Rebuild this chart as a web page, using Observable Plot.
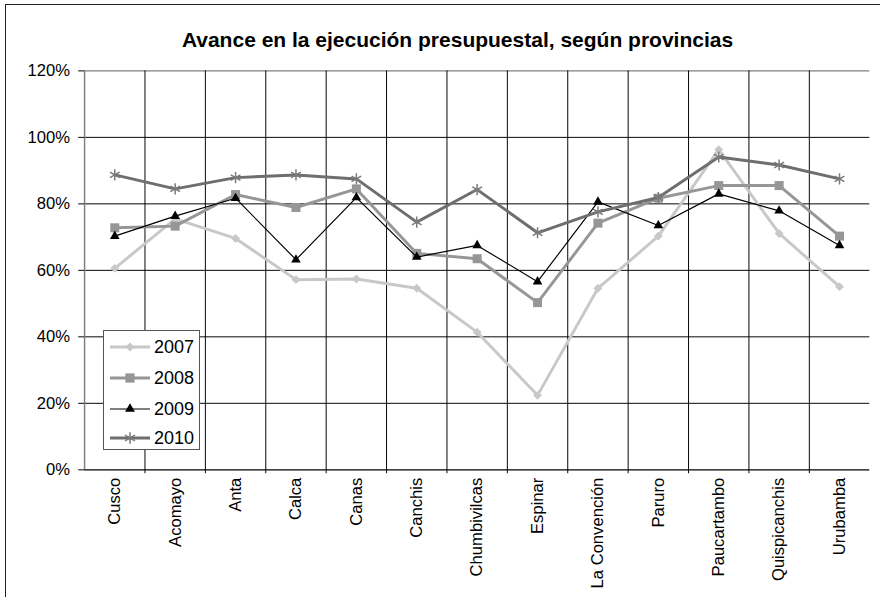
<!DOCTYPE html>
<html>
<head>
<meta charset="utf-8">
<script src="https://cdn.jsdelivr.net/npm/d3@7"></script>
<script src="https://cdn.jsdelivr.net/npm/@observablehq/plot@0.6"></script>
<style>
  html, body { margin: 0; padding: 0; background: #fff; overflow: hidden; }
  body { font-family: "Liberation Sans", Arial, sans-serif; }
  #wrap { position: relative; width: 880px; height: 597px; overflow: hidden; background: #fff; }
  #frame { position: absolute; left: 5px; top: 4px; width: 2000px; height: 2000px; border: 1.5px solid #222; box-sizing: border-box; }
  #title { position: absolute; left: 0; top: 28px; width: 915px; text-align: center; font-weight: bold; font-size: 21px; line-height: 24px; color: #000; }
  #chart { position: absolute; left: 0; top: 0; }
  #legend { position: absolute; left: 103px; top: 330px; width: 97px; height: 120px; background: #fff; border: 1px solid #555; box-sizing: border-box; }
</style>
</head>
<body>
<div id="wrap">
  <div id="frame"></div>
  <div id="chart"></div>
  <div id="title">Avance en la ejecución presupuestal, según provincias</div>
  <div id="legend"></div>
</div>
<script>
// ---- data ----
const categories = ["Cusco", "Acomayo", "Anta", "Calca", "Canas", "Canchis", "Chumbivilcas", "Espinar", "La Convención", "Paruro", "Paucartambo", "Quispicanchis", "Urubamba"];
const years = ["2007", "2008", "2009", "2010"];
const v2007 = [60.6, 75.5, 69.6, 57.2, 57.4, 54.6, 41.4, 22.4, 54.6, 70.3, 96.3, 71.1, 55.1];
const v2008 = [72.8, 73.3, 82.8, 78.9, 84.5, 65.1, 63.5, 50.3, 74.2, 81.7, 85.5, 85.5, 70.3];
const v2009 = [70.3, 76.3, 81.7, 63.2, 81.9, 64.0, 67.5, 56.6, 80.6, 73.5, 83.0, 77.9, 67.5];
const v2010 = [88.7, 84.5, 87.9, 88.7, 87.5, 74.5, 84.3, 71.3, 77.6, 81.9, 94.1, 91.7, 87.5];
const yTicks = [0, 20, 40, 60, 80, 100, 120];

// ---- styles ----
const seriesValues = [v2007, v2008, v2009, v2010];
const styles = [
  {color: "#c8c8c8", width: 3, symbol: "diamond2", r: 4.1, fill: "#c8c8c8", stroke: "none", sw: 0},
  {color: "#969696", width: 3, symbol: "square", r: 5.2, fill: "#969696", stroke: "none", sw: 0},
  {color: "#000000", width: 1.2, symbol: "triangle2", r: 4.7, fill: "#000000", stroke: "none", sw: 0},
  {color: "#6e6e6e", width: 3, symbol: "asterisk", r: 5.4, fill: "none", stroke: "#7a7a7a", sw: 1.5}
];

const rows = years.map((y, k) => categories.map((c, i) => ({year: y, i, cat: c, v: seriesValues[k][i]})));
const bounds = categories.slice(1).map((_, i) => i + 0.5);
const font = "'Liberation Sans', Arial, sans-serif";

const seriesMarks = [];
years.forEach((y, k) => {
  const s = styles[k];
  seriesMarks.push(Plot.line(rows[k], {x: "i", y: "v", stroke: s.color, strokeWidth: s.width, strokeLinejoin: "miter"}));
  seriesMarks.push(Plot.dot(rows[k], {x: "i", y: "v", symbol: s.symbol, r: s.r, fill: s.fill, stroke: s.stroke, strokeWidth: s.sw}));
});

const chart = Plot.plot({
  width: 900,
  height: 600,
  marginLeft: 86,
  marginRight: 11,
  marginTop: 72,
  marginBottom: 120,
  style: {fontFamily: font, fontSize: "17px", color: "#000", background: "transparent", overflow: "visible"},
  x: {domain: [-0.5, categories.length - 0.5]},
  y: {domain: [0, 120]},
  marks: [
    Plot.ruleY(yTicks.filter(d => d > 0 && d < 120), {stroke: "#000", strokeWidth: 1}),
    Plot.ruleY([120], {stroke: "#808080", strokeWidth: 1.5}),
    Plot.ruleX(bounds, {y1: 0, y2: 120, stroke: "#000", strokeWidth: 1}),
    Plot.ruleX([-0.5], {y1: 0, y2: 120, stroke: "#808080", strokeWidth: 1.5}),
    Plot.ruleY([0], {stroke: "#000", strokeWidth: 1.3}),
    Plot.axisY({ticks: yTicks, tickFormat: d => d + "%", tickSize: 6, tickPadding: 9, label: null, fontSize: 17}),
    Plot.axisX({ticks: categories.map((_, i) => i), tickFormat: i => categories[i], tickRotate: -90, tickSize: 0, tickPadding: 8, label: null, fontSize: 17}),
    Plot.axisX({ticks: bounds, tickFormat: () => "", tickSize: 4, label: null}),
    ...seriesMarks
  ]
});
document.getElementById("chart").appendChild(chart);

// ---- legend ----
const lg = d3.select("#legend").append("svg").attr("width", 95).attr("height", 118)
  .style("position", "absolute").style("left", "0px").style("top", "0px");
const rowY = [16, 47, 78, 107];
const symMap = {diamond2: d3.symbolDiamond2, square: d3.symbolSquare, triangle2: d3.symbolTriangle2, asterisk: d3.symbolAsterisk};
years.forEach((y, k) => {
  const s = styles[k];
  const g = lg.append("g").attr("transform", `translate(0,${rowY[k]})`);
  g.append("line").attr("x1", 6).attr("x2", 46).attr("y1", 0).attr("y2", 0)
    .attr("stroke", s.color).attr("stroke-width", s.width);
  g.append("path").attr("transform", "translate(26,0)")
    .attr("d", d3.symbol(symMap[s.symbol], s.r * s.r * Math.PI)())
    .attr("fill", s.fill).attr("stroke", s.stroke).attr("stroke-width", s.sw);
  g.append("text").attr("x", 50).attr("y", 0).attr("dy", "0.35em")
    .attr("font-family", font).attr("font-size", 18).attr("fill", "#000").text(y);
});
</script>
</body>
</html>
